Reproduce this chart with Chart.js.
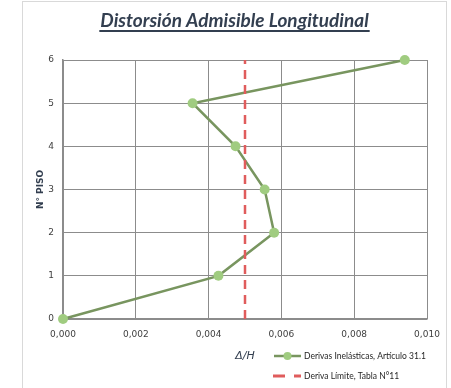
<!DOCTYPE html>
<html>
<head>
<meta charset="utf-8">
<script src="https://cdn.jsdelivr.net/npm/chart.js@4.4.1/dist/chart.umd.min.js"></script>
<style>
  html, body { margin: 0; padding: 0; background: #fff; }
  #wrap { width: 451px; height: 388px; position: relative; }
</style>
</head>
<body>
<div id="wrap"><canvas id="c" width="451" height="388"></canvas></div>
<script>
// Storey numbers and inelastic drift ratios (Δ/H) per storey
const floors = [0, 1, 2, 3, 4, 5, 6];
const inelasticDrift = [0, 0.00427, 0.0058, 0.00554, 0.00474, 0.00356, 0.00939];
// Allowable drift limit, drawn as a vertical line across all storeys
const driftLimit = [0.005, 0.005];
const limitFloors = [0, 6];
const xTickValues = [0, 0.002, 0.004, 0.006, 0.008, 0.010];
const yTickValues = [0, 1, 2, 3, 4, 5, 6];

const titleText = 'Distorsión Admisible Longitudinal';
const xTitle = 'Δ/H';
const yTitle = 'N° PISO';
const seriesNames = ['Derivas Inelásticas, Artículo 31.1', 'Deriva Límite, Tabla N°11'];

const NAVY = '#333f50';
const LINE_GREEN = '#78955f';
const DOT_GREEN = '#a0cc80';
const LIMIT_RED = '#e05c5c';
const GRID = '#8c8c8c';

const driftPoints = floors.map((f, i) => ({ x: inelasticDrift[i], y: f }));
const limitPoints = limitFloors.map((f, i) => ({ x: driftLimit[i], y: f }));

// Frame bounds of the chart object
const FRAME = { left: 22.5, top: 1.5, right: 446.5 };

// Light outer frame and white background
const framePlugin = {
  id: 'frame',
  beforeDraw(chart) {
    const ctx = chart.ctx;
    ctx.save();
    ctx.fillStyle = '#fff';
    ctx.fillRect(0, 0, chart.width, chart.height);
    ctx.strokeStyle = '#d9d9d9';
    ctx.lineWidth = 1;
    ctx.strokeRect(FRAME.left, FRAME.top, FRAME.right - FRAME.left, chart.height + 5);
    ctx.restore();
  }
};

// Underlined title, centred on the frame
const titlePlugin = {
  id: 'underlinedTitle',
  afterDraw(chart) {
    const ctx = chart.ctx;
    const cx = (FRAME.left + FRAME.right) / 2;
    ctx.save();
    ctx.font = 'italic bold 19px "Lato", sans-serif';
    ctx.fillStyle = NAVY;
    ctx.textAlign = 'center';
    ctx.textBaseline = 'alphabetic';
    ctx.fillText(titleText, cx, 27);
    const w = ctx.measureText(titleText).width;
    ctx.strokeStyle = NAVY;
    ctx.lineWidth = 2;
    ctx.beginPath();
    ctx.moveTo(cx - w / 2 - 1, 31);
    ctx.lineTo(cx + w / 2 + 1, 31);
    ctx.stroke();
    ctx.restore();
  }
};

// Two-row legend to the right of the x-axis title
const legendPlugin = {
  id: 'stackLegend',
  afterDraw(chart) {
    const ctx = chart.ctx;
    const x0 = chart.chartArea.left + 211;
    const rows = [356, 376];
    const ds = chart.data.datasets;
    ctx.save();
    ctx.font = '8.5px "Lato", sans-serif';
    ctx.textBaseline = 'middle';

    // series 1: solid line with dot
    ctx.strokeStyle = ds[0].borderColor;
    ctx.lineWidth = 2.5;
    ctx.beginPath();
    ctx.moveTo(x0, rows[0]);
    ctx.lineTo(x0 + 27, rows[0]);
    ctx.stroke();
    ctx.fillStyle = ds[0].pointBackgroundColor;
    ctx.beginPath();
    ctx.arc(x0 + 13.5, rows[0], 4, 0, Math.PI * 2);
    ctx.fill();
    ctx.fillStyle = '#1f1f1f';
    ctx.fillText(ds[0].label, x0 + 30, rows[0]);

    // series 2: dashed line
    ctx.strokeStyle = ds[1].borderColor;
    ctx.lineWidth = 3;
    ctx.setLineDash([12, 9]);
    ctx.beginPath();
    ctx.moveTo(x0 - 1, rows[1]);
    ctx.lineTo(x0 + 27, rows[1]);
    ctx.stroke();
    ctx.setLineDash([]);
    ctx.fillText(ds[1].label, x0 + 30, rows[1]);
    ctx.restore();
  }
};

const fmt = v => v.toFixed(3).replace('.', ',');

new Chart(document.getElementById('c'), {
  type: 'scatter',
  data: {
    datasets: [
      {
        label: seriesNames[0],
        data: driftPoints,
        showLine: true,
        borderColor: LINE_GREEN,
        borderWidth: 2.5,
        pointRadius: 5,
        pointBackgroundColor: DOT_GREEN,
        pointBorderColor: DOT_GREEN,
        pointBorderWidth: 0,
        clip: false,
        order: 1
      },
      {
        label: seriesNames[1],
        data: limitPoints,
        showLine: true,
        borderColor: LIMIT_RED,
        borderWidth: 2.5,
        borderDash: [9, 6],
        pointRadius: 0,
        order: 0
      }
    ]
  },
  options: {
    responsive: false,
    animation: false,
    devicePixelRatio: 1,
    layout: { padding: { left: 30, right: 24, top: 60, bottom: 0 } },
    plugins: {
      legend: { display: false },
      tooltip: { enabled: false },
      title: { display: false }
    },
    scales: {
      x: {
        type: 'linear',
        min: 0,
        max: 0.010,
        afterBuildTicks: s => { s.ticks = xTickValues.map(v => ({ value: v })); },
        afterFit: s => { s.height = 69; },
        ticks: {
          callback: v => fmt(v),
          color: '#404040',
          font: { family: 'DejaVu Sans', size: 9 },
          padding: 10,
          maxRotation: 0
        },
        grid: { color: GRID, lineWidth: 1, drawTicks: false },
        border: { color: GRID, width: 1.5 },
        title: {
          display: true,
          text: xTitle,
          color: NAVY,
          font: { family: 'DejaVu Sans', size: 11, style: 'italic' },
          padding: { top: 0, bottom: 25 }
        }
      },
      y: {
        type: 'linear',
        min: 0,
        max: 6,
        afterBuildTicks: s => { s.ticks = yTickValues.map(v => ({ value: v })); },
        afterFit: s => { s.width = 33; },
        ticks: {
          color: '#404040',
          font: { family: 'DejaVu Sans', size: 9 },
          padding: 9
        },
        grid: { color: GRID, lineWidth: 1, drawTicks: false },
        border: { color: GRID, width: 1.5 },
        title: {
          display: true,
          text: yTitle,
          color: NAVY,
          font: { family: 'DejaVu Sans', size: 9, weight: 'bold' },
          padding: { top: 5, bottom: 0 }
        }
      }
    }
  },
  plugins: [framePlugin, titlePlugin, legendPlugin]
});
</script>
</body>
</html>
